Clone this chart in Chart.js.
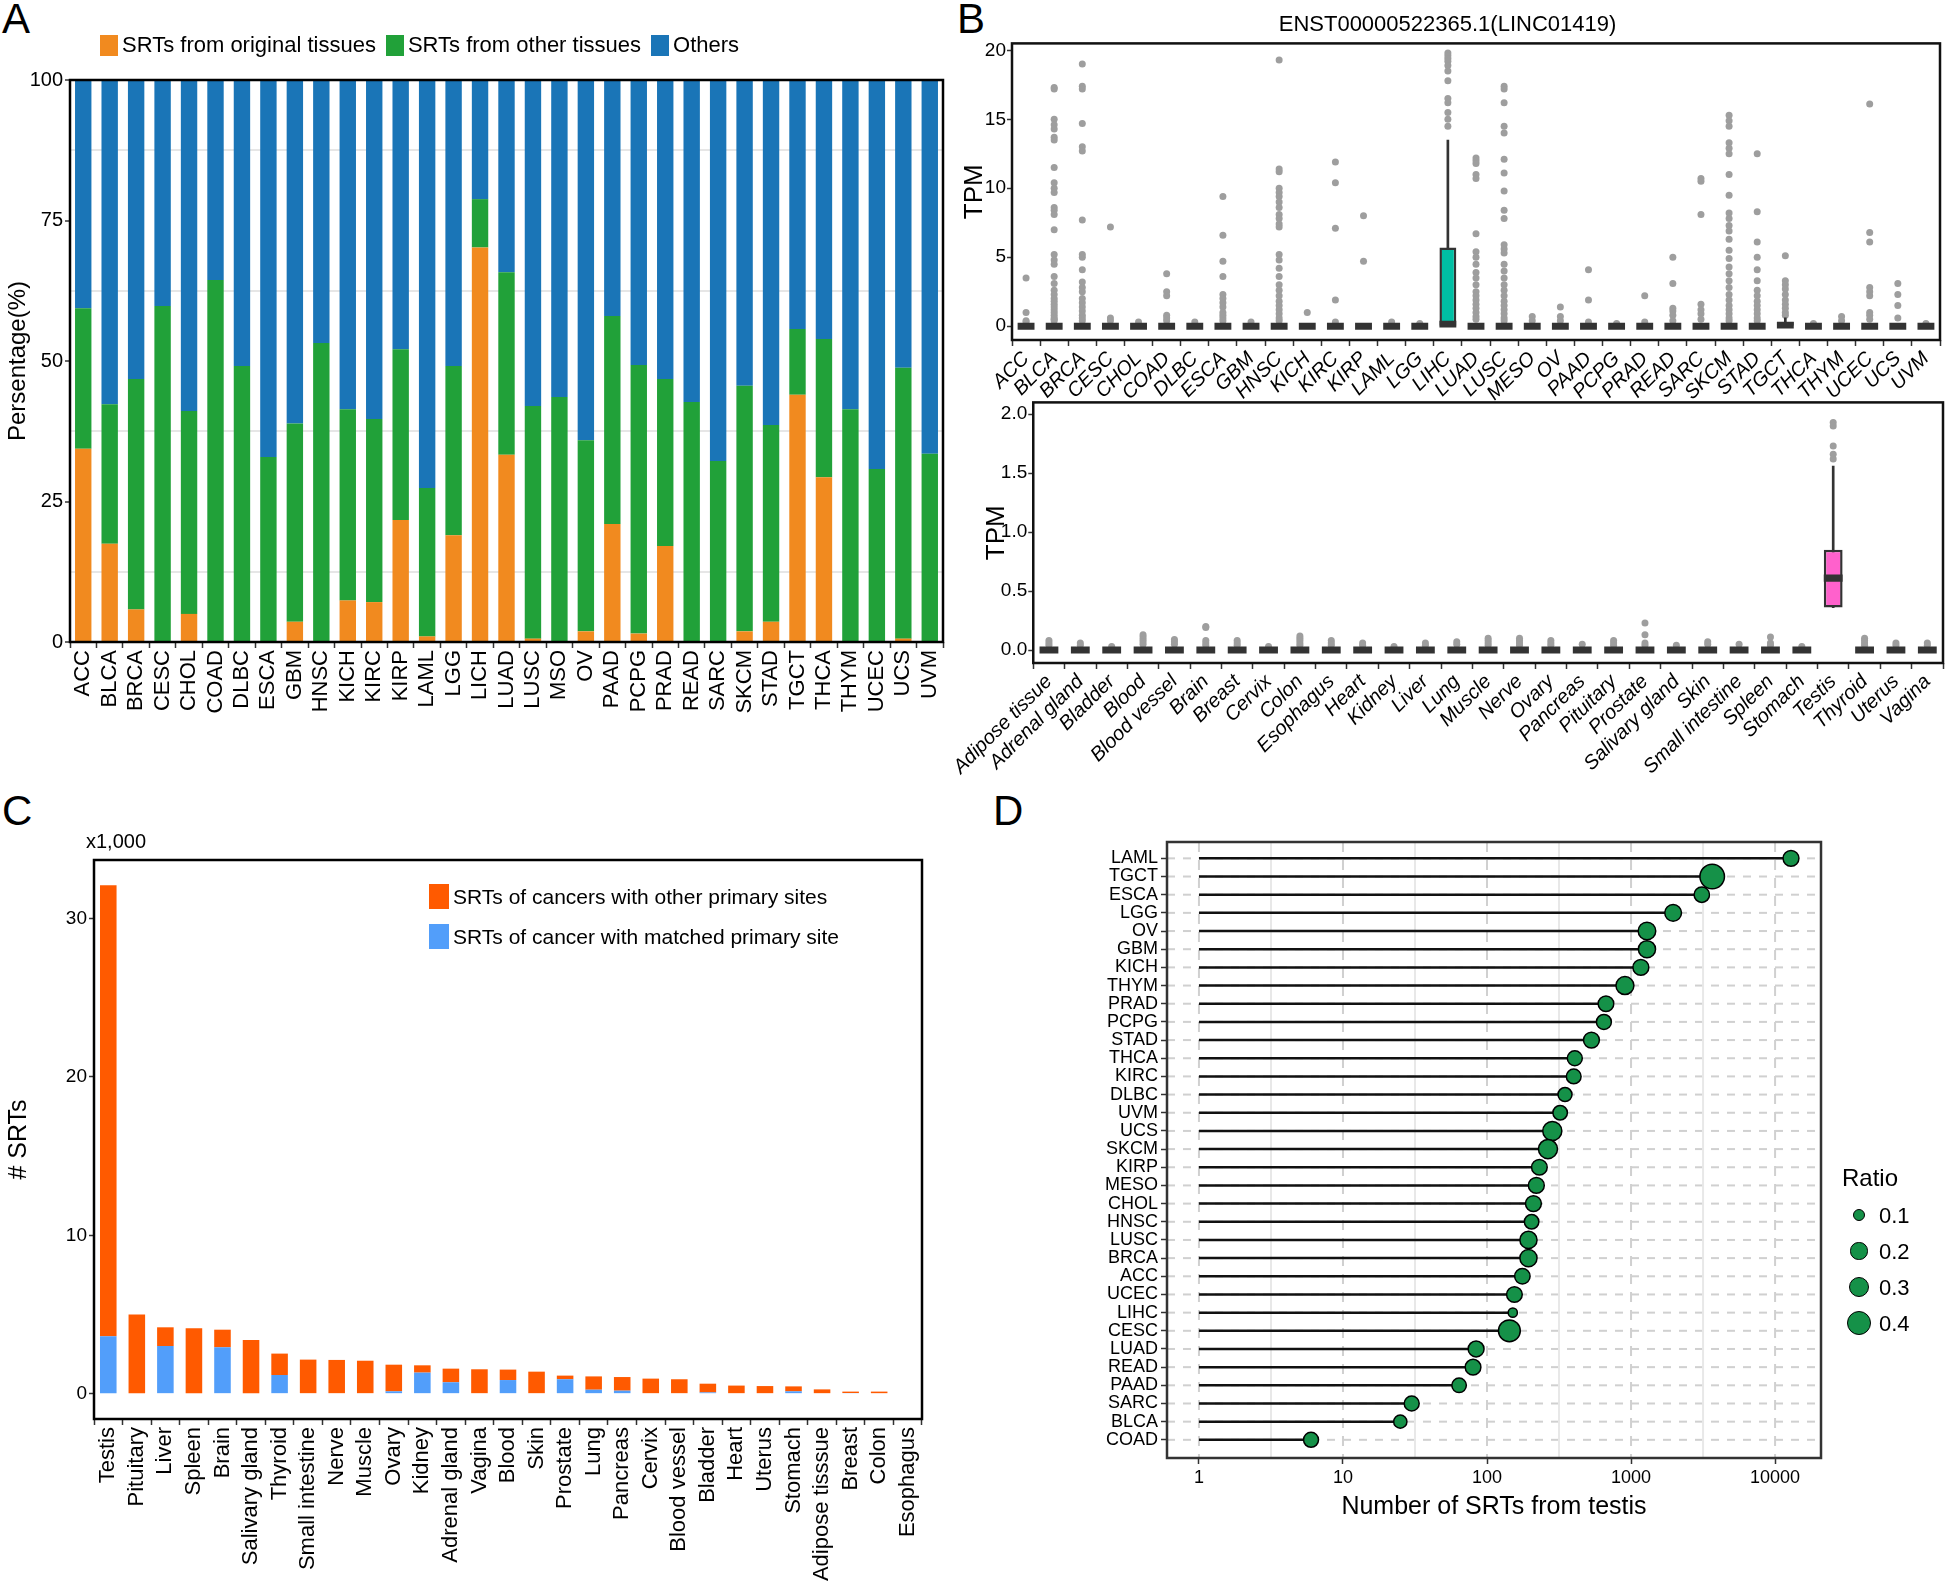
<!DOCTYPE html>
<html>
<head>
<meta charset="utf-8">
<script src="https://cdn.jsdelivr.net/npm/chart.js@4.4.1/dist/chart.umd.min.js"></script>
<style>
  body { margin: 0; background: #fff; width: 1948px; height: 1587px; position: relative; overflow: hidden;
         font-family: 'Liberation Sans', Arial, sans-serif; color: #000; }
  .panel { position: absolute; }
  .letter { position: absolute; font-size: 42px; line-height: 1; }
  .legend { position: absolute; display: flex; align-items: center; white-space: nowrap; }
  .sw { display: inline-block; margin-right: 4px; }
  .note { position: absolute; white-space: nowrap; }
</style>
</head>
<body>
<div class="letter" style="left:2px;top:-2px">A</div>
<div class="letter" style="left:957px;top:-2px">B</div>
<div class="letter" style="left:2px;top:790px">C</div>
<div class="letter" style="left:993px;top:790px">D</div>

<div class="panel" style="left:0;top:0;width:960px;height:760px"><canvas id="chartA"></canvas></div>
<div class="panel" style="left:955px;top:0;width:993px;height:430px"><canvas id="chartBtop"></canvas></div>
<div class="panel" style="left:955px;top:390px;width:993px;height:400px"><canvas id="chartBbottom"></canvas></div>
<div class="panel" style="left:0;top:790px;width:960px;height:797px"><canvas id="chartC"></canvas></div>
<div class="panel" style="left:990px;top:790px;width:958px;height:797px"><canvas id="chartD"></canvas></div>

<!-- legends -->
<div class="legend" id="legendA" style="left:100px;top:32px;font-size:22px"></div>
<div class="note" style="left:86px;top:830px;font-size:20px">x1,000</div>
<div class="legend" id="legendC1" style="left:429px;top:884px;font-size:21px"></div>
<div class="legend" id="legendC2" style="left:429px;top:924px;font-size:21px"></div>
<div id="legendD"></div>

<script>
// ---------- Panel A : share of SRTs per cancer (%) ----------
const cancerA = ['ACC','BLCA','BRCA','CESC','CHOL','COAD','DLBC','ESCA','GBM','HNSC','KICH','KIRC','KIRP','LAML','LGG','LICH','LUAD','LUSC','MSO','OV','PAAD','PCPG','PRAD','READ','SARC','SKCM','STAD','TGCT','THCA','THYM','UCEC','UCS','UVM'];
// top of the orange part
const aOriginal = [34.4,17.5,5.8,0,5.0,0,0,0,3.6,0,7.4,7.1,21.7,1.0,19.0,70.2,33.3,0.6,0,1.9,21.0,1.5,17.1,0,0,1.9,3.6,44.0,29.3,0,0,0.6,0];
// top of the green part (orange + green)
const aWithOther = [59.4,42.3,46.8,59.8,41.1,64.4,49.1,32.9,38.9,53.2,41.4,39.7,52.1,27.4,49.1,78.8,65.8,42.0,43.6,35.9,58.0,49.3,46.8,42.7,32.2,45.6,38.6,55.7,53.9,41.4,30.8,48.8,33.5];
const aTicks = [0, 12.5, 25, 37.5, 50, 62.5, 75, 87.5, 100];

// ---------- Panel B : TPM boxplots ----------
const tcga = ['ACC','BLCA','BRCA','CESC','CHOL','COAD','DLBC','ESCA','GBM','HNSC','KICH','KIRC','KIRP','LAML','LGG','LIHC','LUAD','LUSC','MESO','OV','PAAD','PCPG','PRAD','READ','SARC','SKCM','STAD','TGCT','THCA','THYM','UCEC','UCS','UVM'];
const topQ1  = tcga.map(() => 0);
const topQ3  = tcga.map(c => c === 'LIHC' ? 5.7 : (c === 'TGCT' ? 0.3 : 0));
const topMed = tcga.map(c => c === 'LIHC' ? 0.15 : (c === 'TGCT' ? 0.08 : 0));
const topWhiskerHi = tcga.map(c => c === 'LIHC' ? 13.5 : (c === 'TGCT' ? 0.6 : 0));
const topOutliers = [
  [3.5,1.0,0.4,0.3],
  [17.3,17.2,15.0,14.6,14.3,13.7,13.5,11.5,10.4,10.0,9.7,8.6,8.4,8.1,7.0,5.2,4.8,4.5,3.6,3.1,2.6,2.3,2.0,1.8,1.6,1.4,1.2,1.0,0.8,0.6,0.5,0.4],
  [19.0,17.4,17.2,14.7,13.0,12.7,7.7,5.2,5.0,4.1,3.2,2.8,2.5,2.0,1.7,1.4,1.1,0.8,0.6,0.4],
  [7.2,0.6,0.4],
  [0.3],
  [3.8,2.5,2.2,0.8,0.6,0.4],
  [0.3],
  [9.4,6.6,4.7,3.6,2.3,2.0,1.7,1.4,1.0,0.8,0.6,0.4],
  [0.3],
  [19.3,11.4,11.2,10.0,9.7,9.4,9.0,8.6,8.1,7.8,7.4,7.2,5.2,4.8,4.2,3.6,3.0,2.6,2.2,1.8,1.5,1.2,0.9,0.6,0.4],
  [1.0],
  [11.9,10.4,7.1,1.9,0.3],
  [8.0,4.7],
  [0.3],
  [0.2],
  [19.8,19.6,19.4,19.2,18.9,18.5,17.8,16.5,16.2,15.5,15.0,14.5],
  [12.2,12.0,11.8,11.0,10.7,6.7,5.4,5.0,4.5,3.9,3.5,3.0,2.5,2.2,1.9,1.6,1.3,1.0,0.7,0.5],
  [17.4,17.2,16.2,14.5,14.0,12.1,11.1,9.8,8.4,7.8,5.9,5.6,5.3,4.5,4.0,3.5,3.0,2.6,2.2,1.8,1.5,1.2,0.9,0.6,0.4],
  [0.7,0.4],
  [1.4,0.7,0.4],
  [4.1,1.9,0.3],
  [0.2],
  [2.2,0.3],
  [5.0,3.1,1.3,1.1,0.8,0.4],
  [10.7,10.5,8.1,1.6,1.2,0.9,0.5],
  [15.3,14.9,14.5,13.3,12.9,12.5,11.0,9.5,8.2,7.8,7.3,6.9,6.3,5.5,4.9,4.3,3.8,3.3,2.8,2.3,1.9,1.5,1.2,0.9,0.6,0.4],
  [12.5,8.3,6.1,5.0,4.1,3.3,2.6,2.2,1.8,1.5,1.2,0.9,0.6,0.4],
  [5.1,3.3,3.0,2.7,2.3,1.9,1.6,1.3,1.0,0.8],
  [0.2],
  [0.7,0.4],
  [16.1,6.8,6.1,2.8,2.5,2.2,1.0,0.8,0.5],
  [3.1,2.3,1.5,0.6],
  [0.2]
];
const topTicks = [0, 5, 10, 15, 20];

const gtex = ['Adipose tissue','Adrenal gland','Bladder','Blood','Blood vessel','Brain','Breast','Cervix','Colon','Esophagus','Heart','Kidney','Liver','Lung','Muscle','Nerve','Ovary','Pancreas','Pituitary','Prostate','Salivary gland','Skin','Small intestine','Spleen','Stomach','Testis','Thyroid','Uterus','Vagina'];
const botQ1  = gtex.map(t => t === 'Testis' ? 0.36 : 0);
const botMed = gtex.map(t => t === 'Testis' ? 0.61 : 0);
const botQ3  = gtex.map(t => t === 'Testis' ? 0.85 : 0);
const botWhiskerHi = gtex.map(t => t === 'Testis' ? 1.56 : 0);
const botOutliers = [
  [0.08,0.06,0.04],[0.06,0.04],[0.03],[0.13,0.11,0.09,0.07,0.05],[0.09,0.07,0.05],
  [0.2,0.19,0.08,0.06,0.04],[0.08,0.06,0.04],[0.03],[0.12,0.10,0.08,0.06,0.04],[0.08,0.06,0.04],
  [0.06,0.04],[0.03],[0.06,0.04],[0.07,0.05],[0.1,0.08,0.06,0.04],
  [0.1,0.08,0.06,0.04],[0.08,0.06,0.04],[0.05],[0.08,0.06,0.04],[0.23,0.13,0.06,0.04],
  [0.04],[0.07,0.05],[0.05],[0.11,0.06,0.04],[0.03],
  [1.93,1.90,1.73,1.66,1.62],[0.1,0.08,0.06,0.04],[0.06,0.04],[0.06,0.04]
];
const botTicks = [0, 0.5, 1.0, 1.5, 2.0];

// ---------- Panel C : SRT counts per tissue (x1,000) ----------
const cTissues = ['Testis','Pituitary','Liver','Spleen','Brain','Salivary gland','Thyroid','Small intestine','Nerve','Muscle','Ovary','Kidney','Adrenal gland','Vagina','Blood','Skin','Prostate','Lung','Pancreas','Cervix','Blood vessel','Bladder','Heart','Uterus','Stomach','Adipose tisssue','Breast','Colon','Esophagus'];
const cTotal   = [32.1,5.0,4.19,4.13,4.04,3.39,2.53,2.15,2.13,2.08,1.83,1.79,1.58,1.54,1.52,1.39,1.14,1.09,1.05,0.95,0.91,0.63,0.51,0.48,0.46,0.27,0.13,0.13,0.03];
const cMatched = [3.62,0,3.01,0,2.93,0,1.18,0,0,0,0.15,1.33,0.72,0,0.86,0,0.91,0.25,0.19,0,0,0.08,0,0,0.15,0,0.04,0,0];
const cTicks = [0, 10, 20, 30];

// ---------- Panel D : SRTs from testis per cancer ----------
const dCancers = ['LAML','TGCT','ESCA','LGG','OV','GBM','KICH','THYM','PRAD','PCPG','STAD','THCA','KIRC','DLBC','UVM','UCS','SKCM','KIRP','MESO','CHOL','HNSC','LUSC','BRCA','ACC','UCEC','LIHC','CESC','LUAD','READ','PAAD','SARC','BLCA','COAD'];
const dCounts = [12900,3660,3100,1960,1290,1290,1170,907,670,648,531,407,400,348,322,284,265,231,220,210,204,194,194,176,155,151,143,84,80,64,30,25,6];
const dRatio  = [0.17,0.42,0.16,0.19,0.21,0.2,0.17,0.22,0.165,0.15,0.17,0.15,0.145,0.13,0.14,0.25,0.25,0.165,0.17,0.17,0.14,0.2,0.2,0.16,0.165,0.05,0.33,0.17,0.165,0.14,0.15,0.115,0.15];
const dTicks = [1, 10, 100, 1000, 10000];
const dLegendRatios = [0.1, 0.2, 0.3, 0.4];

// ---------- common ----------
Chart.defaults.font.family = "'Liberation Sans', Arial, sans-serif";
Chart.defaults.color = '#000';
Chart.defaults.animation = false;
Chart.defaults.plugins.legend.display = false;
Chart.defaults.plugins.tooltip.enabled = false;

// ggplot-style panel border around the plotting area
const framePlugin = {
  id: 'frame',
  afterDraw(chart, args, opts) {
    const { ctx, chartArea: a } = chart;
    ctx.save();
    ctx.strokeStyle = opts.color || '#000';
    ctx.lineWidth = opts.width || 2;
    ctx.strokeRect(a.left, a.top, a.right - a.left, a.bottom - a.top);
    ctx.restore();
  }
};
Chart.register(framePlugin);

function fixedTicks(values) {
  return function(scale) { scale.ticks = values.map(v => ({ value: v })); };
}
function tickGrid() {
  return { drawOnChartArea: false, tickLength: 6, tickColor: '#333', tickWidth: 1.5 };
}

function addLegendItem(el, color, w, h, text) {
  const sw = document.createElement('span');
  sw.className = 'sw';
  sw.style.background = color;
  sw.style.width = w + 'px';
  sw.style.height = h + 'px';
  const t = document.createElement('span');
  t.textContent = text;
  t.style.marginRight = '10px';
  el.appendChild(sw);
  el.appendChild(t);
}

// ---------- A ----------
const colOrig = '#F18A1F', colOther = '#21A139', colRest = '#1A75B7';
const legA = document.getElementById('legendA');
addLegendItem(legA, colOrig, 18, 21, 'SRTs from original tissues');
addLegendItem(legA, colOther, 18, 21, 'SRTs from other tissues');
addLegendItem(legA, colRest, 18, 21, 'Others');

new Chart(document.getElementById('chartA'), {
  type: 'bar',
  data: {
    labels: cancerA,
    datasets: [
      { label: 'SRTs from original tissues', data: aOriginal, backgroundColor: colOrig },
      { label: 'SRTs from other tissues', data: aWithOther.map((v, i) => v - aOriginal[i]), backgroundColor: colOther },
      { label: 'Others', data: aWithOther.map(v => 100 - v), backgroundColor: colRest }
    ]
  },
  options: {
    responsive: true, maintainAspectRatio: false,
    datasets: { bar: { barPercentage: 0.62, categoryPercentage: 1 } },
    layout: { padding: { top: 80, right: 17, left: 0, bottom: 0 } },
    plugins: { frame: { color: '#000', width: 2.5 } },
    scales: {
      x: {
        stacked: true,
        grid: tickGrid(), border: { display: false },
        ticks: { autoSkip: false, minRotation: 90, maxRotation: 90, font: { size: 22 }, padding: 2 },
        afterFit: s => { s.height = 118; }
      },
      y: {
        stacked: true, min: 0, max: 100,
        afterBuildTicks: fixedTicks(aTicks),
        grid: {
          color: c => (c.tick && c.tick.value % 25 === 0) ? 'rgba(0,0,0,0)' : '#e6e6e6',
          lineWidth: 2,
          tickColor: c => (c.tick && c.tick.value % 25 === 0) ? '#333' : 'rgba(0,0,0,0)',
          tickLength: 5, tickWidth: 1.5
        },
        border: { display: false },
        ticks: { font: { size: 20 }, padding: 2, callback: v => (v % 25 === 0 ? v : '') },
        title: { display: true, text: 'Persentage(%)', font: { size: 24 } },
        afterFit: s => { s.width = 70; }
      }
    }
  }
});

// ---------- B ----------
function boxChart(id, labels, q1, med, q3, wHi, outliers, fills, pad, yMin, yMax, ticks, fmt, geom, title) {
  const idx = labels.map((_, i) => i);
  const points = [];
  labels.forEach((lab, i) => outliers[i].forEach(v => points.push({ x: lab, y: v })));
  return new Chart(document.getElementById(id), {
    type: 'bar',
    data: {
      labels: labels,
      datasets: [
        { type: 'scatter', data: points, pointRadius: 3.5, backgroundColor: '#9e9e9e', borderWidth: 0, order: 4 },
        { data: idx.map(i => wHi[i] > q3[i] ? [q1[i], wHi[i]] : null), backgroundColor: '#333',
          barThickness: 2, grouped: false, order: 3 },
        { data: idx.map(i => [q1[i], q3[i]]), backgroundColor: fills, borderColor: '#333', borderWidth: 2.5,
          borderSkipped: false, barPercentage: 0.6, categoryPercentage: 1, grouped: false, order: 2 },
        { data: idx.map(i => [med[i] - pad, med[i] + pad]), backgroundColor: '#333',
          barPercentage: 0.6, categoryPercentage: 1, grouped: false, order: 1 }
      ]
    },
    options: {
      responsive: true, maintainAspectRatio: false,
      layout: { padding: geom.padding },
      plugins: {
        frame: { color: '#111', width: 2.5 },
        title: title || { display: false }
      },
      scales: {
        x: {
          type: 'category',
          grid: tickGrid(), border: { display: false },
          ticks: { autoSkip: false, minRotation: 45, maxRotation: 45, font: { size: 20, style: 'italic' }, padding: 1 },
          afterFit: s => { s.height = geom.xH; }
        },
        y: {
          min: yMin, max: yMax,
          afterBuildTicks: fixedTicks(ticks),
          grid: { drawOnChartArea: false, tickLength: 5, tickColor: '#333', tickWidth: 1.5 },
          border: { display: false },
          ticks: { font: { size: 19 }, padding: 1, callback: fmt },
          title: { display: true, text: 'TPM', font: { size: 26 } },
          afterFit: s => { s.width = geom.yW; }
        }
      }
    }
  });
}

boxChart('chartBtop', tcga, topQ1, topMed, topQ3, topWhiskerHi, topOutliers,
  tcga.map(c => c === 'LIHC' ? '#00BFA4' : '#333'), 0.25, -1, 20.5, topTicks, v => v,
  { padding: { top: 0, right: 8, left: 0, bottom: 0 }, xH: 90, yW: 57 },
  { display: true, text: 'ENST00000522365.1(LINC01419)', font: { size: 22, weight: 'normal' },
    padding: { top: 12, bottom: 5 }, color: '#000' });

boxChart('chartBbottom', gtex, botQ1, botMed, botQ3, botWhiskerHi, botOutliers,
  gtex.map(t => t === 'Testis' ? '#FF61CC' : '#333'), 0.03, -0.11, 2.1, botTicks, v => v.toFixed(1),
  { padding: { top: 9, right: 5, left: 0, bottom: 0 }, xH: 127, yW: 56 });

// ---------- C ----------
const colOtherSite = '#FF5A00', colMatched = '#529EFA';
addLegendItem(document.getElementById('legendC1'), colOtherSite, 20, 25, 'SRTs of cancers with other primary sites');
addLegendItem(document.getElementById('legendC2'), colMatched, 20, 25, 'SRTs of cancer with matched primary site');

new Chart(document.getElementById('chartC'), {
  type: 'bar',
  data: {
    labels: cTissues,
    datasets: [
      { label: 'SRTs of cancer with matched primary site', data: cMatched, backgroundColor: colMatched },
      { label: 'SRTs of cancers with other primary sites', data: cTotal.map((v, i) => v - cMatched[i]), backgroundColor: colOtherSite }
    ]
  },
  options: {
    responsive: true, maintainAspectRatio: false,
    datasets: { bar: { barPercentage: 0.58, categoryPercentage: 1 } },
    layout: { padding: { top: 70, right: 38, left: 0, bottom: 0 } },
    plugins: { frame: { color: '#000', width: 2.5 } },
    scales: {
      x: {
        stacked: true,
        grid: tickGrid(), border: { display: false },
        ticks: { autoSkip: false, minRotation: 90, maxRotation: 90, font: { size: 22 }, padding: 2 },
        afterFit: s => { s.height = 168; }
      },
      y: {
        stacked: true, min: -1.6, max: 33.7,
        afterBuildTicks: fixedTicks(cTicks),
        grid: { drawOnChartArea: false, tickLength: 5, tickColor: '#333', tickWidth: 1.5 },
        border: { display: false },
        ticks: { font: { size: 19 }, padding: 2 },
        title: { display: true, text: '# SRTs', font: { size: 25 } },
        afterFit: s => { s.width = 94; }
      }
    }
  }
});

// ---------- D ----------
function ratioRadius(r) { return Math.sqrt(14 + 1400 * r) / 2; }

const dGrid = {
  id: 'dGrid',
  beforeDatasetsDraw(chart) {
    const { ctx, chartArea: a, scales: { x, y } } = chart;
    ctx.save();
    // horizontal dashed guide per row
    ctx.strokeStyle = '#d0d0d0';
    ctx.lineWidth = 2;
    ctx.setLineDash([8, 8]);
    dCancers.forEach((_, i) => {
      const py = y.getPixelForValue(i);
      ctx.beginPath(); ctx.moveTo(a.left, py); ctx.lineTo(a.right, py); ctx.stroke();
    });
    // dashed verticals at decades
    ctx.setLineDash([10, 8]);
    dTicks.forEach(v => {
      const px = x.getPixelForValue(v);
      ctx.beginPath(); ctx.moveTo(px, a.top); ctx.lineTo(px, a.bottom); ctx.stroke();
    });
    // solid light verticals between decades
    ctx.setLineDash([]);
    ctx.strokeStyle = '#e8e8e8';
    dTicks.slice(0, -1).forEach(v => {
      const px = x.getPixelForValue(v * Math.sqrt(10));
      ctx.beginPath(); ctx.moveTo(px, a.top); ctx.lineTo(px, a.bottom); ctx.stroke();
    });
    ctx.restore();
  }
};

const stems = dCancers.map((c, i) => ({
  type: 'line',
  data: [{ x: 1, y: i }, { x: dCounts[i], y: i }],
  borderColor: '#111', borderWidth: 2.5, pointRadius: 0, order: 2
}));

new Chart(document.getElementById('chartD'), {
  type: 'bubble',
  data: {
    datasets: stems.concat([{
      label: 'Ratio',
      data: dCounts.map((v, i) => ({ x: v, y: i, r: ratioRadius(dRatio[i]) })),
      backgroundColor: '#159148', borderColor: '#000', borderWidth: 1.5, order: 1
    }])
  },
  options: {
    responsive: true, maintainAspectRatio: false,
    layout: { padding: { top: 52, right: 127, left: 0, bottom: 61 } },
    plugins: { frame: { color: '#333', width: 2.5 } },
    scales: {
      x: {
        type: 'logarithmic', min: 0.61, max: 20840,
        afterBuildTicks: fixedTicks(dTicks),
        grid: { drawOnChartArea: false, tickLength: 6, tickColor: '#333', tickWidth: 1.5 },
        border: { display: false },
        ticks: { font: { size: 18 }, padding: 3, callback: v => String(v) },
        title: { display: true, text: 'Number of SRTs from testis', font: { size: 25 } },
        afterFit: s => { s.height = 68; }
      },
      y: {
        type: 'linear', reverse: true, min: -0.9, max: 33,
        afterBuildTicks: fixedTicks(dCancers.map((_, i) => i)),
        grid: { drawOnChartArea: false, tickLength: 6, tickColor: '#333', tickWidth: 1.5 },
        border: { display: false },
        ticks: { autoSkip: false, font: { size: 18 }, padding: 3, callback: v => dCancers[v] },
        afterFit: s => { s.width = 177; }
      }
    }
  },
  plugins: [dGrid]
});

// size legend for panel D
const legD = document.getElementById('legendD');
const rt = document.createElement('div');
rt.className = 'note';
rt.style.cssText = 'left:1842px;top:1164px;font-size:24px';
rt.textContent = 'Ratio';
legD.appendChild(rt);
dLegendRatios.forEach((r, k) => {
  const cy = 1215 + k * 36;
  const rad = ratioRadius(r);
  const dot = document.createElement('div');
  dot.style.cssText = 'position:absolute;border-radius:50%;background:#159148;border:1.5px solid #000;box-sizing:border-box;' +
    'left:' + (1859 - rad) + 'px;top:' + (cy - rad) + 'px;width:' + (2 * rad) + 'px;height:' + (2 * rad) + 'px';
  legD.appendChild(dot);
  const lab = document.createElement('div');
  lab.className = 'note';
  lab.style.cssText = 'left:1879px;top:' + (cy - 12) + 'px;font-size:22px';
  lab.textContent = String(r);
  legD.appendChild(lab);
});
</script>
</body>
</html>
